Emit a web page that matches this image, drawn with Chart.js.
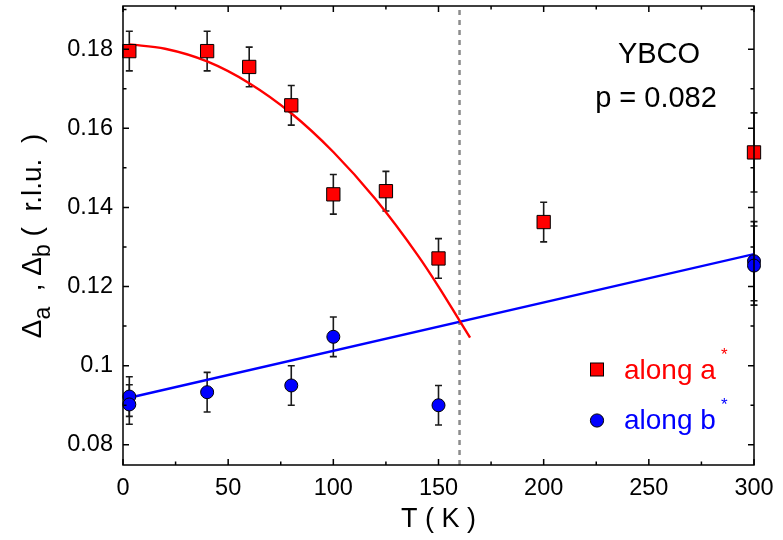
<!DOCTYPE html>
<html>
<head>
<meta charset="utf-8">
<script src="https://cdn.jsdelivr.net/npm/chart.js@4.4.1/dist/chart.umd.min.js"></script>
<style>
  html, body { margin: 0; padding: 0; background: #ffffff; }
  #wrap { width: 783px; height: 540px; }
</style>
</head>
<body>
<div id="wrap"><canvas id="c" width="783" height="540"></canvas></div>
<script>
// Measured gap widths along a* and b*
const tempA  = [3, 40, 60, 80, 100, 125, 150, 200, 300];
const deltaA = [0.1795, 0.1795, 0.1755, 0.1658, 0.1433, 0.1441, 0.1271, 0.1363, 0.1539];
const errA   = [0.005, 0.005, 0.005, 0.005, 0.005, 0.005, 0.005, 0.005, 0.010];

const tempB  = [3, 3, 40, 80, 100, 150, 300, 300];
const deltaB = [0.0922, 0.0902, 0.0933, 0.0950, 0.1073, 0.0900, 0.1264, 0.1253];
const errB   = [0.005, 0.005, 0.005, 0.005, 0.005, 0.005, 0.010, 0.010];

// Fit curves
const fitTempA  = [3, 20, 40, 60, 80, 100, 120, 140, 150, 160, 165];
const fitDeltaA = [0.1812, 0.1801, 0.1769, 0.1714, 0.1638, 0.1540, 0.1421, 0.1280, 0.1200, 0.1114, 0.1071];
const fitTempB  = [3, 300];
const fitDeltaB = [0.0919, 0.1282];

const transitionT = 160;

const xTicks = [0, 50, 100, 150, 200, 250, 300];
const xTickLabels = ['0', '50', '100', '150', '200', '250', '300'];
const yTicks = [0.08, 0.10, 0.12, 0.14, 0.16, 0.18];
const yTickLabels = ['0.08', '0.1', '0.12', '0.14', '0.16', '0.18'];
const xMinorStep = 25;
const yMinorStep = 0.01;

const X_MIN = 0, X_MAX = 300, Y_MIN = 0.0749, Y_MAX = 0.1909;

const FONT = '"Liberation Sans", Arial, sans-serif';
const RED = '#ff0000';
const BLUE = '#0000ff';

const pts = (xs, ys) => xs.map((x, i) => ({ x: x, y: ys[i] }));

// Error bars under the markers
const errorBars = {
  id: 'errorBars',
  beforeDatasetsDraw(chart) {
    const { ctx, scales: { x, y } } = chart;
    ctx.save();
    ctx.strokeStyle = '#1a1a1a';
    ctx.lineWidth = 1.6;
    chart.data.datasets.forEach(ds => {
      if (!ds.errors) return;
      ds.data.forEach((p, i) => {
        const px = x.getPixelForValue(p.x);
        const y1 = y.getPixelForValue(p.y + ds.errors[i]);
        const y2 = y.getPixelForValue(p.y - ds.errors[i]);
        ctx.beginPath();
        ctx.moveTo(px, y1); ctx.lineTo(px, y2);
        ctx.moveTo(px - 3.5, y1); ctx.lineTo(px + 3.5, y1);
        ctx.moveTo(px - 3.5, y2); ctx.lineTo(px + 3.5, y2);
        ctx.stroke();
      });
    });
    ctx.restore();
  }
};

// Box frame with inward ticks on all four sides
const frame = {
  id: 'frame',
  afterDatasetsDraw(chart) {
    const { ctx, chartArea: a, scales: { x, y } } = chart;
    ctx.save();
    ctx.strokeStyle = '#000';
    ctx.lineWidth = 1.5;
    ctx.beginPath();
    const tick = (px, major) => {
      const L = major ? 6 : 3.5;
      ctx.moveTo(px, a.bottom); ctx.lineTo(px, a.bottom - L);
      ctx.moveTo(px, a.top); ctx.lineTo(px, a.top + L);
    };
    for (let v = X_MIN; v <= X_MAX + 1e-9; v += xMinorStep) {
      tick(x.getPixelForValue(v), xTicks.some(t => Math.abs(t - v) < 1e-9));
    }
    for (let k = Math.ceil(Y_MIN / yMinorStep); k * yMinorStep <= Y_MAX; k++) {
      const v = k * yMinorStep;
      const py = y.getPixelForValue(v);
      const major = yTicks.some(t => Math.abs(t - v) < 1e-9);
      const L = major ? 6 : 3.5;
      ctx.moveTo(a.left, py); ctx.lineTo(a.left + L, py);
      ctx.moveTo(a.right, py); ctx.lineTo(a.right - L, py);
    }
    ctx.stroke();
    ctx.strokeRect(a.left, a.top, a.right - a.left, a.bottom - a.top);
    ctx.restore();
  }
};

// Y-axis title with subscripts, annotations and legend
const labels = {
  id: 'labels',
  afterDraw(chart) {
    const { ctx } = chart;
    ctx.save();

    // Rotated y title
    const main = '28px ' + FONT, sub = '23px ' + FONT;
    const parts = [['\u0394', main, 0], ['a', sub, 9], ['  , ', main, 0],
                   ['\u0394', main, 0], ['b', sub, 9], [' (  r.l.u.  )', main, 0]];
    let total = 0;
    parts.forEach(p => { ctx.font = p[1]; total += ctx.measureText(p[0]).width; });
    ctx.translate(41, 236);
    ctx.rotate(-Math.PI / 2);
    ctx.fillStyle = '#000';
    ctx.textBaseline = 'alphabetic';
    ctx.textAlign = 'left';
    let cx = -total / 2;
    parts.forEach(p => {
      ctx.font = p[1];
      ctx.fillText(p[0], cx, p[2]);
      cx += ctx.measureText(p[0]).width;
    });
    ctx.setTransform(1, 0, 0, 1, 0, 0);

    // Sample annotation
    ctx.fillStyle = '#000';
    ctx.textAlign = 'center';
    ctx.font = '29px ' + FONT;
    ctx.fillText('YBCO', 659, 63);
    ctx.fillText('p = 0.082', 656, 107);

    // Legend
    ctx.lineWidth = 1;
    ctx.strokeStyle = '#000';
    ctx.fillStyle = RED;
    ctx.fillRect(590.5, 363, 13, 13);
    ctx.strokeRect(590.5, 363, 13, 13);
    ctx.fillStyle = BLUE;
    ctx.beginPath();
    ctx.arc(597, 420.5, 6.6, 0, Math.PI * 2);
    ctx.fill(); ctx.stroke();

    ctx.textAlign = 'left';
    ctx.font = '28px ' + FONT;
    ctx.fillStyle = RED;
    ctx.fillText('along a', 624, 379);
    ctx.fillStyle = BLUE;
    ctx.fillText('along b', 624, 429);
    ctx.font = '17px ' + FONT;
    ctx.fillStyle = RED;
    ctx.fillText('*', 721, 360);
    ctx.fillStyle = BLUE;
    ctx.fillText('*', 721, 410);
    ctx.restore();
  }
};

new Chart(document.getElementById('c'), {
  data: {
    datasets: [
      {
        type: 'line', data: pts([transitionT, transitionT], [Y_MIN, Y_MAX]),
        borderColor: '#8c8c8c', borderWidth: 2.5, borderDash: [5, 5],
        pointRadius: 0, order: 5
      },
      {
        type: 'line', data: pts(fitTempB, fitDeltaB),
        borderColor: BLUE, borderWidth: 2.4, pointRadius: 0, order: 4
      },
      {
        type: 'line', data: pts(fitTempA, fitDeltaA),
        borderColor: RED, borderWidth: 2.4, pointRadius: 0,
        cubicInterpolationMode: 'monotone', order: 3
      },
      {
        type: 'scatter', data: pts(tempB, deltaB), errors: errB,
        pointStyle: 'circle', pointRadius: 6.5, backgroundColor: BLUE,
        borderColor: '#000', borderWidth: 1, clip: false, order: 2
      },
      {
        type: 'scatter', data: pts(tempA, deltaA), errors: errA,
        pointStyle: 'rect', pointRadius: 9.4, backgroundColor: RED,
        borderColor: '#000', borderWidth: 1, clip: false, order: 1
      }
    ]
  },
  options: {
    responsive: false,
    animation: false,
    events: [],
    layout: { autoPadding: false, padding: { left: 0, right: 29, top: 6, bottom: 0 } },
    plugins: { legend: { display: false }, tooltip: { enabled: false } },
    scales: {
      x: {
        type: 'linear', min: X_MIN, max: X_MAX,
        afterBuildTicks: s => { s.ticks = xTicks.map(v => ({ value: v })); },
        afterFit: s => { s.height = 75; s.paddingLeft = 0; s.paddingRight = 0; },
        grid: { display: false, drawTicks: false },
        border: { display: false },
        ticks: {
          color: '#000', padding: 9, font: { family: FONT, size: 23.5 },
          callback: (v) => xTickLabels[xTicks.indexOf(v)]
        },
        title: {
          display: true, text: 'T ( K )', color: '#000',
          font: { family: FONT, size: 27 }, padding: { top: 0, bottom: 4 }
        }
      },
      y: {
        type: 'linear', min: Y_MIN, max: Y_MAX,
        afterBuildTicks: s => { s.ticks = yTicks.map(v => ({ value: v })); },
        afterFit: s => { s.width = 123; s.paddingTop = 0; s.paddingBottom = 0; },
        grid: { display: false, drawTicks: false },
        border: { display: false },
        ticks: {
          color: '#000', padding: 10, font: { family: FONT, size: 23.5 },
          callback: (v) => {
            const i = yTicks.findIndex(t => Math.abs(t - v) < 1e-9);
            return i >= 0 ? yTickLabels[i] : '';
          }
        }
      }
    }
  },
  plugins: [errorBars, frame, labels]
});
</script>
</body>
</html>
